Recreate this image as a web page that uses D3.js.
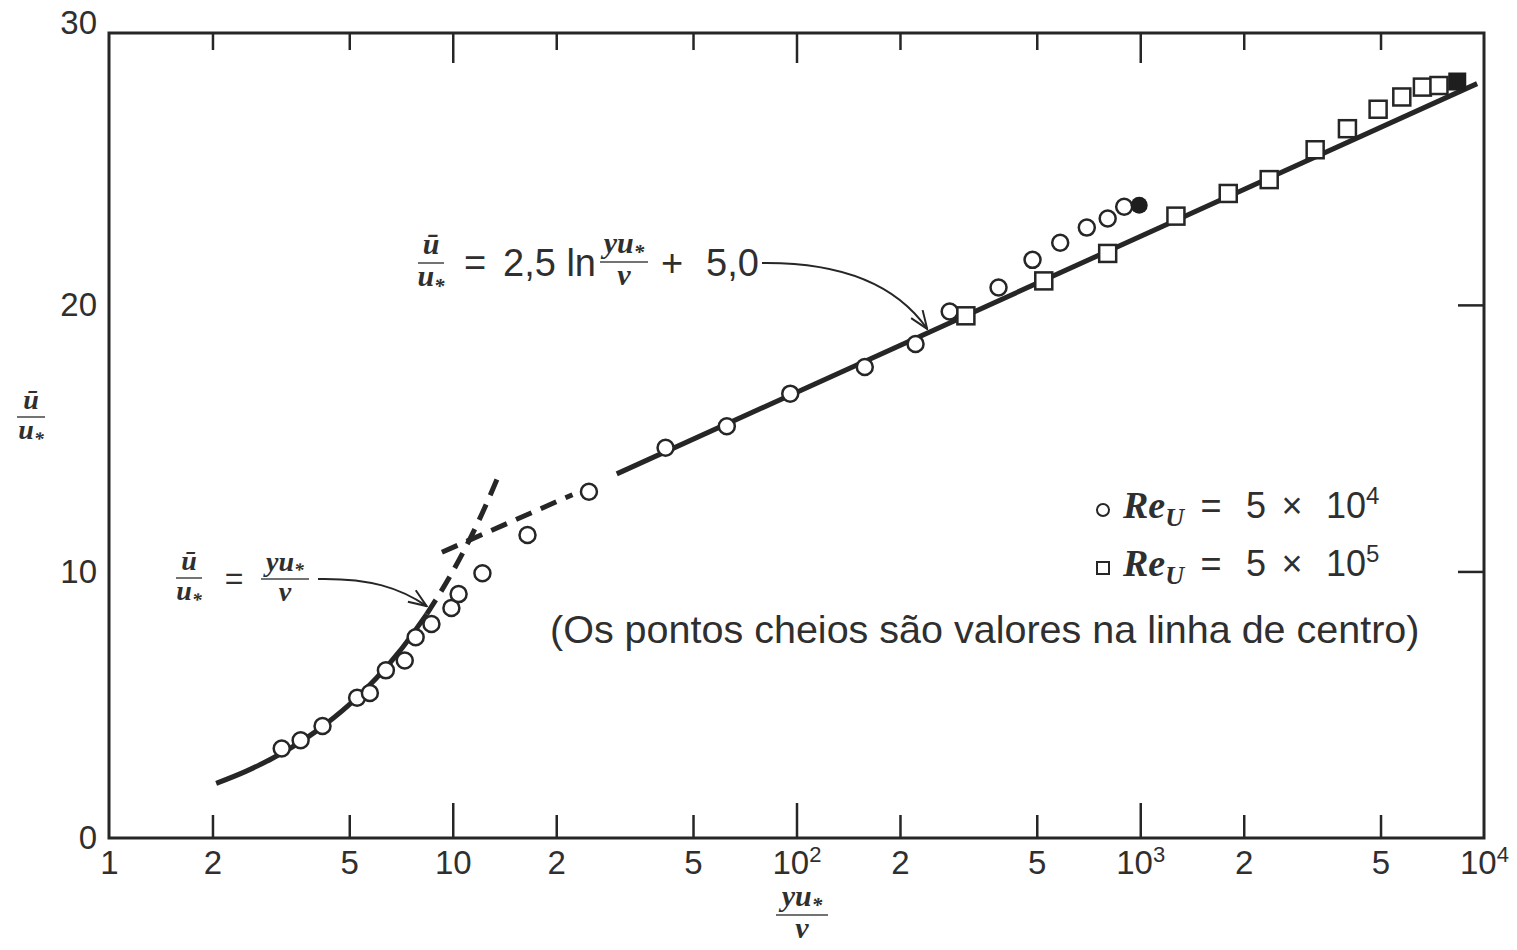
<!DOCTYPE html>
<html>
<head>
<meta charset="utf-8">
<script src="https://cdn.jsdelivr.net/npm/d3@7"></script>
<style>
  body { margin: 0; background: #fff; }
  svg { display: block; }
  .sans { font-family: "Liberation Sans", Arial, sans-serif; fill: #2f2f2f; }
  .math { font-family: "Liberation Serif", "Times New Roman", serif; font-style: italic; font-weight: bold; fill: #2f2f2f; }
</style>
</head>
<body>
<div id="chart"></div>
<script>
// axis ticks
var X_TICKS = [1, 2, 5, 10, 20, 50, 100, 200, 500, 1000, 2000, 5000, 10000];
var X_TICK_LABELS = ["1", "2", "5", "10", "2", "5", "10|2", "2", "5", "10|3", "2", "5", "10|4"];
var X_MAJOR = [10, 100, 1000];
var X_MINOR = [2, 5, 20, 50, 200, 500, 2000, 5000];
var Y_TICKS = [0, 10, 20, 30];
var Y_RIGHT_TICKS = [10, 20];

// Re_U = 5 x 10^4 (circles)
var CIRC_X = [3.18, 3.61, 4.18, 5.27, 5.74, 6.39, 7.25, 7.80, 8.67, 9.91, 10.4, 12.2, 16.5, 24.9, 41.6, 62.7, 95.9, 158, 222, 279, 387, 486, 585, 699, 804, 898];
var CIRC_Y = [3.36, 3.67, 4.20, 5.26, 5.44, 6.29, 6.66, 7.53, 8.03, 8.63, 9.15, 9.93, 11.37, 12.99, 14.64, 15.45, 16.67, 17.67, 18.53, 19.75, 20.65, 21.69, 22.33, 22.90, 23.24, 23.68];
// Re_U = 5 x 10^5 (squares)
var SQ_X = [311, 524, 804, 1270, 1803, 2372, 3227, 4006, 4920, 5766, 6620, 7396];
var SQ_Y = [19.59, 20.90, 21.93, 23.33, 24.18, 24.70, 25.82, 26.61, 27.34, 27.80, 28.17, 28.23];
// centreline values (filled)
var CIRC_CENTER = [[993, 23.74]];
var SQ_CENTER = [[8360, 28.38]];

// curves
var SUB_SOLID = [[2.05, 2.05], [2.5, 2.5], [3, 3], [4, 4], [5, 5], [6, 6], [7, 7], [8.4, 8.4]];
var SUB_DASH = [[8.4, 8.4], [10, 10], [12, 12], [13.7, 13.7]];
var LOG_DASH = [[9.3, 10.72], [22.3, 12.88]];
var LOG_SOLID = [[30, 13.66], [9550, 28.3]];

// arrow targets
var ARROW_LOG = [240, 19.1];
var ARROW_SUB = [8.4, 8.7];

var W = 1517, H = 950;
var INK = "#262626";

var svg = d3.select("#chart").append("svg")
    .attr("width", W)
    .attr("height", H);

svg.append("rect").attr("width", W).attr("height", H).attr("fill", "#fff");

var x = d3.scaleLog().domain([1, 10000]).range([109, 1484]);
var y = d3.scaleLinear().domain([0, 30.2]).range([838, 33]);

var defs = svg.append("defs");
defs.append("marker")
    .attr("id", "arr")
    .attr("viewBox", "0 0 20 20")
    .attr("refX", 19).attr("refY", 10)
    .attr("markerWidth", 20).attr("markerHeight", 20)
    .attr("markerUnits", "userSpaceOnUse")
    .attr("orient", "auto")
    .append("path")
    .attr("d", "M1,3 L19,10 L1,17")
    .attr("fill", "none")
    .attr("stroke", INK)
    .attr("stroke-width", 2);

// frame
svg.append("rect")
    .attr("x", x(1)).attr("y", y(30.2))
    .attr("width", x(10000) - x(1))
    .attr("height", y(0) - y(30.2))
    .attr("fill", "none")
    .attr("stroke", INK)
    .attr("stroke-width", 3);

function cleanTicks(g) {
    g.select(".domain").remove();
    g.selectAll(".tick line").attr("stroke", INK).attr("stroke-width", 2.5);
}

// inner ticks, bottom
svg.append("g").attr("transform", "translate(0," + y(0) + ")")
    .call(d3.axisTop(x).tickValues(X_MAJOR).tickSize(35).tickFormat(""))
    .call(cleanTicks);
svg.append("g").attr("transform", "translate(0," + y(0) + ")")
    .call(d3.axisTop(x).tickValues(X_MINOR).tickSize(23).tickFormat(""))
    .call(cleanTicks);
// inner ticks, top
svg.append("g").attr("transform", "translate(0," + y(30.2) + ")")
    .call(d3.axisBottom(x).tickValues(X_MAJOR).tickSize(30).tickFormat(""))
    .call(cleanTicks);
svg.append("g").attr("transform", "translate(0," + y(30.2) + ")")
    .call(d3.axisBottom(x).tickValues(X_MINOR).tickSize(17).tickFormat(""))
    .call(cleanTicks);
// inner ticks, right
svg.append("g").attr("transform", "translate(" + x(10000) + ",0)")
    .call(d3.axisLeft(y).tickValues(Y_RIGHT_TICKS).tickSize(26).tickFormat(""))
    .call(cleanTicks);

// x tick labels
var xl = svg.append("g").attr("transform", "translate(0," + y(0) + ")")
    .call(d3.axisBottom(x).tickValues(X_TICKS).tickSize(0).tickPadding(13).tickFormat(""))
    .call(function (g) { g.select(".domain").remove(); });
xl.selectAll(".tick text")
    .attr("class", "sans")
    .attr("font-size", 33)
    .each(function (d, i) {
        var parts = X_TICK_LABELS[i].split("|");
        var t = d3.select(this);
        t.append("tspan").text(parts[0]);
        if (parts[1]) {
            t.append("tspan").attr("font-size", 22).attr("dy", "-0.55em").text(parts[1]);
        }
    });

// y tick labels
var yl = svg.append("g").attr("transform", "translate(" + x(1) + ",0)")
    .call(d3.axisLeft(y).tickValues(Y_TICKS).tickSize(0).tickPadding(12))
    .call(function (g) { g.select(".domain").remove(); });
yl.selectAll(".tick text")
    .attr("class", "sans")
    .attr("font-size", 33)
    .filter(function (d) { return d === 30; })
    .attr("dy", "-0.15em");

// curves
var line = d3.line()
    .x(function (d) { return x(d[0]); })
    .y(function (d) { return y(d[1]); })
    .curve(d3.curveMonotoneX);

function curve(data, dashed) {
    svg.append("path")
        .datum(data)
        .attr("d", line)
        .attr("fill", "none")
        .attr("stroke", INK)
        .attr("stroke-width", 5)
        .attr("stroke-dasharray", dashed ? "17,10" : null);
}
curve(SUB_SOLID, false);
curve(SUB_DASH, true);
curve(LOG_DASH, true);
curve(LOG_SOLID, false);

// markers
var circ = CIRC_X.map(function (d, i) { return [d, CIRC_Y[i]]; });
var sq = SQ_X.map(function (d, i) { return [d, SQ_Y[i]]; });

svg.append("g").selectAll("circle.open")
    .data(circ)
    .enter().append("circle")
    .attr("cx", function (d) { return x(d[0]); })
    .attr("cy", function (d) { return y(d[1]); })
    .attr("r", 8)
    .attr("fill", "#fff")
    .attr("stroke", INK)
    .attr("stroke-width", 2.5);

svg.append("g").selectAll("circle.full")
    .data(CIRC_CENTER)
    .enter().append("circle")
    .attr("cx", function (d) { return x(d[0]); })
    .attr("cy", function (d) { return y(d[1]); })
    .attr("r", 8.5)
    .attr("fill", "#1e1e1e");

svg.append("g").selectAll("rect.open")
    .data(sq)
    .enter().append("rect")
    .attr("x", function (d) { return x(d[0]) - 8.5; })
    .attr("y", function (d) { return y(d[1]) - 8.5; })
    .attr("width", 17).attr("height", 17)
    .attr("fill", "#fff")
    .attr("stroke", INK)
    .attr("stroke-width", 2.5);

svg.append("g").selectAll("rect.full")
    .data(SQ_CENTER)
    .enter().append("rect")
    .attr("x", function (d) { return x(d[0]) - 9; })
    .attr("y", function (d) { return y(d[1]) - 9; })
    .attr("width", 18).attr("height", 18)
    .attr("fill", "#1e1e1e");

// math helpers
function uStar(t) {
    t.append("tspan").text("u");
    t.append("tspan").attr("font-size", "0.7em").attr("dy", "0.3em").text("*");
}
function uBar(t) { t.append("tspan").text("ū"); }
function yuStar(t) {
    t.append("tspan").text("yu");
    t.append("tspan").attr("font-size", "0.7em").attr("dy", "0.3em").text("*");
}
function nu(t) { t.append("tspan").text("ν"); }

function fraction(cx, cy, num, den, size, w) {
    var f = svg.append("g").attr("class", "math").attr("font-size", size);
    num(f.append("text").attr("x", cx).attr("y", cy - size * 0.3).attr("text-anchor", "middle"));
    f.append("line")
        .attr("x1", cx - w / 2).attr("x2", cx + w / 2)
        .attr("y1", cy).attr("y2", cy)
        .attr("stroke", "#444").attr("stroke-width", 1.5);
    den(f.append("text").attr("x", cx).attr("y", cy + size * 0.78).attr("text-anchor", "middle"));
}

function sansText(tx, ty, str, size, anchor) {
    return svg.append("text")
        .attr("class", "sans")
        .attr("x", tx).attr("y", ty)
        .attr("font-size", size)
        .attr("text-anchor", anchor || "start")
        .text(str);
}

// axis titles
fraction(31, 417, uBar, uStar, 28, 28);
fraction(802, 915, yuStar, nu, 30, 52);

// log law label
fraction(431, 263, uBar, uStar, 30, 26);
sansText(475, 276, "=", 38, "middle");
sansText(503, 276, "2,5 ln", 38);
fraction(624, 262, yuStar, nu, 30, 48);
sansText(672, 276, "+", 38, "middle");
sansText(706, 276, "5,0", 38);

svg.append("path")
    .attr("d", "M762,263 C850,262 900,290 " + x(ARROW_LOG[0]) + "," + y(ARROW_LOG[1]))
    .attr("fill", "none")
    .attr("stroke", INK)
    .attr("stroke-width", 2)
    .attr("marker-end", "url(#arr)");

// sublayer label
fraction(189, 578, uBar, uStar, 28, 26);
sansText(234, 589, "=", 32, "middle");
fraction(285, 579, yuStar, nu, 28, 48);

svg.append("path")
    .attr("d", "M318,579 C370,578 400,588 " + x(ARROW_SUB[0]) + "," + y(ARROW_SUB[1]))
    .attr("fill", "none")
    .attr("stroke", INK)
    .attr("stroke-width", 2)
    .attr("marker-end", "url(#arr)");

// legend
var LEGEND = ["4", "5"];
LEGEND.forEach(function (p, i) {
    var by = 518 + i * 58;
    if (i === 0) {
        svg.append("circle").attr("cx", 1103).attr("cy", by - 8).attr("r", 6)
            .attr("fill", "none").attr("stroke", INK).attr("stroke-width", 2);
    } else {
        svg.append("rect").attr("x", 1097).attr("y", by - 14).attr("width", 12).attr("height", 12)
            .attr("fill", "none").attr("stroke", INK).attr("stroke-width", 2);
    }
    var t = svg.append("text").attr("class", "math").attr("x", 1123).attr("y", by).attr("font-size", 38);
    t.append("tspan").text("Re");
    t.append("tspan").attr("font-size", 26).attr("dy", 8).text("U");
    sansText(1211, by, "=", 36, "middle");
    sansText(1256, by, "5", 36, "middle");
    sansText(1292, by, "×", 36, "middle");
    sansText(1346, by, "10", 36, "middle");
    sansText(1366, by - 14, p, 24);
});
sansText(550, 643, "(Os pontos cheios são valores na linha de centro)", 39.5);
</script>
</body>
</html>
